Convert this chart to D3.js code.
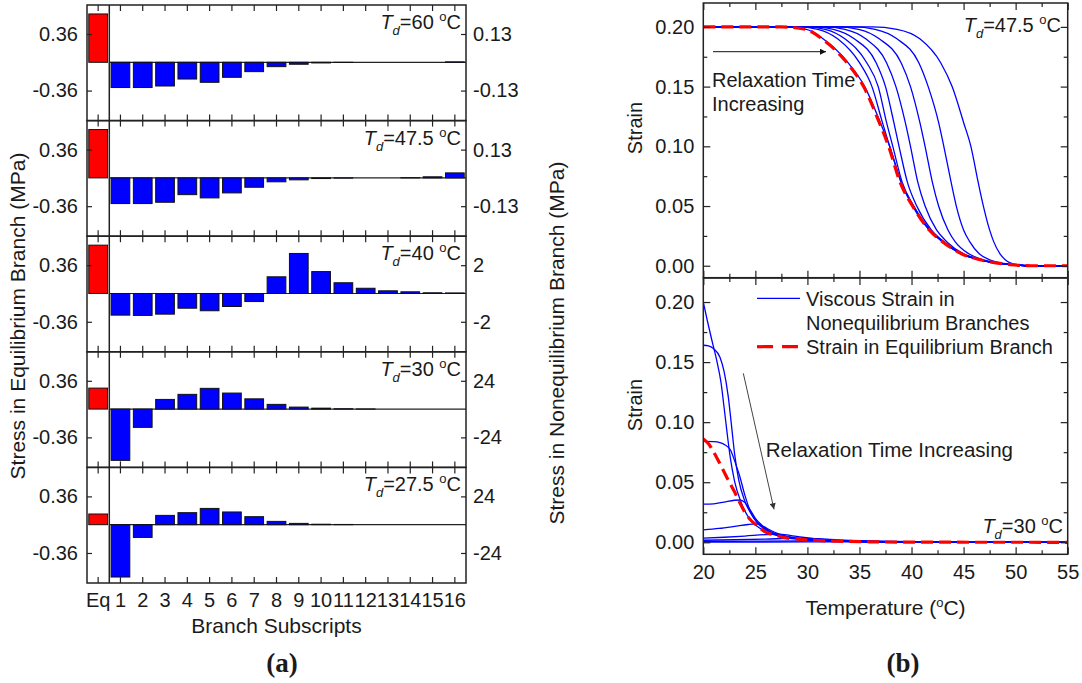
<!DOCTYPE html>
<html>
<head>
<meta charset="utf-8">
<script src="https://cdn.jsdelivr.net/npm/d3@7"></script>
<style>
  html, body { margin: 0; padding: 0; background: #fff; }
  svg { display: block; }
  text { font-family: "Liberation Sans", Arial, sans-serif; fill: #1a1a1a; }
</style>
</head>
<body>
<svg id="fig" width="1082" height="683"></svg>
<script>
// ---------- (a) stress in each branch, one panel per dwell temperature ----------
const branches = ["Eq","1","2","3","4","5","6","7","8","9","10","11","12","13","14","15","16"];
const dwellTemps = ["60", "47.5", "40", "30", "27.5"];
const eqStress = [0.615, 0.615, 0.615, 0.267, 0.136];           // MPa, left axis
const neqStress60  = [-0.116,-0.116,-0.109,-0.077,-0.092,-0.069,-0.043,-0.020,-0.009,-0.003,-0.001,0,0,0,0,0.002];
const neqStress475 = [-0.118,-0.118,-0.112,-0.077,-0.092,-0.069,-0.043,-0.018,-0.009,-0.003,-0.001,0,0,0.001,0.005,0.023];
const neqStress40  = [-1.53,-1.55,-1.46,-1.04,-1.22,-0.92,-0.57,1.18,2.83,1.55,0.76,0.37,0.19,0.12,0.05,0.04];
const neqStress30  = [-43.5,-15.5,8.2,12.5,17.6,13.6,8.7,4.0,1.7,0.8,0.3,0.1,0,0,0,0];
const neqStress275 = [-44.4,-10.8,7.9,10.2,13.8,10.8,6.8,2.8,1.1,0.4,0.2,0,0,0,0,0];
const eqTick = 0.36;
const neqTicks = [0.13, 0.13, 2, 24, 24];

// ---------- (b) strain histories ----------
const tempTicks = [20, 25, 30, 35, 40, 45, 50, 55];
const tempMinorTicks = [22.5, 27.5, 32.5, 37.5, 42.5, 47.5, 52.5];
const strainTicks = [0, 0.05, 0.10, 0.15, 0.20];
const strainMinorTicks = [0.025, 0.075, 0.125, 0.175];

// Td = 47.5 °C: temperature at which each curve reaches the listed strain
const strainLevels = [0.2, 0.198, 0.19, 0.17, 0.15, 0.12, 0.10, 0.07, 0.05, 0.03, 0.02, 0.01, 0.005, 0.001, 0];
const eqTemps475 = [27.5, 29.8, 31.4, 33.8, 35.4, 36.9, 37.8, 38.9, 40.1, 41.7, 43.0, 44.8, 46.6, 49.5, 51.5];
const viscousTemps475 = [
  [27.6, 29.9, 31.5, 33.9, 35.5, 37.0, 37.9, 39.0, 40.2, 41.8, 43.1, 44.9, 46.7, 49.6, 51.5],
  [29.0, 31.0, 32.9, 35.0, 36.2, 37.2, 37.9, 39.0, 40.1, 41.7, 43.0, 44.8, 46.6, 49.5, 51.5],
  [29.8, 31.7, 33.6, 35.7, 36.8, 37.6, 38.2, 39.1, 40.2, 41.7, 43.0, 44.8, 46.6, 49.5, 51.5],
  [30.6, 32.5, 34.5, 36.6, 37.5, 38.3, 38.8, 39.6, 40.5, 41.9, 43.1, 44.8, 46.6, 49.5, 51.5],
  [31.6, 33.6, 35.6, 37.6, 38.5, 39.4, 39.9, 40.6, 41.3, 42.4, 43.4, 45.0, 46.7, 49.5, 51.5],
  [32.8, 34.9, 36.9, 39.0, 39.9, 40.8, 41.3, 42.0, 42.6, 43.5, 44.2, 45.5, 46.9, 49.6, 51.5],
  [34.4, 36.5, 38.6, 40.7, 41.6, 42.6, 43.1, 43.8, 44.3, 45.0, 45.6, 46.5, 47.5, 49.7, 51.5],
  [36.2, 38.6, 40.8, 42.8, 43.9, 45.0, 45.7, 46.4, 46.9, 47.5, 47.9, 48.5, 49.0, 50.0, 51.0]
];

// Td = 30 °C: [temperature, strain]
const eqStrain30 = [[20,0.086],[20.5,0.082],[21,0.075],[21.5,0.067],[22,0.0585],[22.5,0.050],[23,0.042],[23.5,0.033],[24,0.025],[24.5,0.019],[25,0.015],[26,0.0085],[27,0.0058],[28,0.0036],[29.3,0.0025],[31,0.0015],[33,0.0009],[36,0.0004],[40,0.0001],[55,0]];
const viscousStrain30 = [
  [[20,0.2],[20.4,0.184],[20.8,0.169],[21.3,0.151],[21.7,0.133],[22.0,0.112],[22.3,0.090],[22.6,0.070],[23.0,0.051],[23.6,0.034],[24.4,0.020],[25.3,0.0125],[26.3,0.0078],[27.8,0.0042],[30,0.002],[33,0.0009],[37,0.0003],[42,0.0001],[55,0]],
  [[20,0.164],[20.5,0.1635],[21,0.161],[21.6,0.154],[22.0,0.142],[22.4,0.121],[22.7,0.098],[23.0,0.074],[23.4,0.052],[24.0,0.034],[24.8,0.021],[25.8,0.012],[26.8,0.0075],[28.3,0.004],[30.5,0.002],[33,0.001],[37,0.0003],[42,0.0001],[55,0]],
  [[20,0.084],[21,0.0838],[21.6,0.083],[22.1,0.081],[22.6,0.077],[23.0,0.068],[23.5,0.055],[24.0,0.039],[24.6,0.024],[25.2,0.016],[25.8,0.0115],[27,0.0062],[28.5,0.0036],[30.5,0.002],[33,0.001],[37,0.0003],[42,0.0001],[55,0]],
  [[20,0.0317],[21,0.032],[22,0.0335],[23,0.035],[23.5,0.0352],[24,0.033],[24.5,0.027],[25,0.020],[25.6,0.0145],[26.3,0.0095],[27.2,0.0062],[28.5,0.0037],[30.5,0.002],[33,0.001],[37,0.0003],[42,0.0001],[55,0]],
  [[20,0.0103],[21.5,0.0115],[23,0.0132],[24.3,0.0148],[25.1,0.0153],[25.8,0.013],[26.5,0.0098],[27.3,0.0068],[28.5,0.0042],[30.5,0.0022],[33,0.0011],[37,0.0004],[42,0.0001],[55,0]],
  [[20,0.0035],[22,0.0042],[24,0.0052],[26,0.0064],[27.2,0.0068],[28.3,0.0058],[29.5,0.0042],[31,0.0026],[33,0.0014],[37,0.0005],[42,0.0001],[55,0]],
  [[20,0.0017],[23,0.0021],[26,0.0027],[29,0.0033],[31,0.003],[33,0.002],[36,0.0009],[40,0.0003],[45,0.0001],[55,0]],
  [[20,0.0007],[25,0.0009],[30,0.0012],[34,0.0014],[37,0.001],[41,0.0004],[46,0.0001],[55,0]],
  [[20,0.0002],[30,0.0003],[38,0.0004],[44,0.0002],[55,0]]
];

const svg = d3.select("#fig");
const INK = "#222";
const BLUE = "#0000ff";
const RED = "#ff0000";

const defs = svg.append("defs");
defs.append("marker").attr("id", "headBlack")
  .attr("viewBox", "0 0 10 10").attr("refX", 10).attr("refY", 5)
  .attr("markerWidth", 10).attr("markerHeight", 6).attr("markerUnits", "userSpaceOnUse")
  .attr("orient", "auto")
  .append("path").attr("d", "M0,0L10,5L0,10Z").attr("fill", "#111");
defs.append("marker").attr("id", "headGrey")
  .attr("viewBox", "0 0 10 10").attr("refX", 10).attr("refY", 5)
  .attr("markerWidth", 9).attr("markerHeight", 6).attr("markerUnits", "userSpaceOnUse")
  .attr("orient", "auto")
  .append("path").attr("d", "M0,0L10,5L0,10Z").attr("fill", "#333");

function styleAxis(g, fontSize) {
  g.attr("font-size", fontSize).attr("font-family", "\"Liberation Sans\", Arial, sans-serif").attr("color", INK);
  g.select(".domain").remove();
  g.selectAll(".tick line").attr("stroke-width", 1.2);
  g.selectAll(".tick text").attr("fill", "#1a1a1a");
}

function tdLabel(parent, x, y, value) {
  const t = parent.append("text").attr("x", x).attr("y", y)
    .attr("text-anchor", "end").style("font-size", "20px");
  t.append("tspan").style("font-style", "italic").text("T");
  t.append("tspan").style("font-style", "italic").style("font-size", "13px").attr("dy", 6).text("d");
  t.append("tspan").attr("dy", -6).text("=" + value + " ");
  t.append("tspan").style("font-size", "13px").attr("dy", -8).text("o");
  t.append("tspan").attr("dy", 8).text("C");
}

// ================= panel (a) =================
const A = { left: 87, right: 466, top: 5, panelH: 115.6 };
const xB = d3.scaleBand().domain(branches).range([A.left, A.right])
  .paddingInner(0.16).paddingOuter(0.08);
const sepX = xB("1") - (xB.step() - xB.bandwidth()) / 2;
const neqSeries = [neqStress60, neqStress475, neqStress40, neqStress30, neqStress275];
const panelsA = dwellTemps.map((t, i) => ({ temp: t, eq: eqStress[i], neq: neqSeries[i], tick: neqTicks[i] }));
const gA = svg.append("g");

panelsA.forEach((p, i) => {
  const top = A.top + i * A.panelH, bot = top + A.panelH;
  const yL = d3.scaleLinear().domain([-0.742, 0.729]).range([bot, top]);
  const k = p.tick / eqTick;
  const yR = d3.scaleLinear().domain([-0.742 * k, 0.729 * k]).range([bot, top]);
  const g = gA.append("g");

  // equilibrium branch bar
  g.append("rect")
    .attr("x", xB("Eq")).attr("width", xB.bandwidth())
    .attr("y", yL(Math.max(p.eq, 0))).attr("height", Math.abs(yL(p.eq) - yL(0)))
    .attr("fill", RED).attr("stroke", "#111").attr("stroke-width", 1);

  // zero line across the nonequilibrium part
  g.append("line").attr("x1", sepX).attr("x2", A.right)
    .attr("y1", yR(0)).attr("y2", yR(0)).attr("stroke", INK).attr("stroke-width", 1.2);

  // nonequilibrium branch bars
  g.selectAll("rect.neq").data(p.neq).join("rect").attr("class", "neq")
    .attr("x", (d, j) => xB(branches[j + 1])).attr("width", xB.bandwidth())
    .attr("y", d => yR(Math.max(d, 0))).attr("height", d => Math.abs(yR(d) - yR(0)))
    .attr("fill", BLUE).attr("stroke", "#111").attr("stroke-width", 1);

  // axes
  const axL = g.append("g").attr("transform", `translate(${A.left},0)`)
    .call(d3.axisLeft(yL).tickValues([-eqTick, eqTick]).tickSize(-5).tickPadding(9).tickFormat(d => String(d)));
  styleAxis(axL, 20);
  const axR = g.append("g").attr("transform", `translate(${A.right},0)`)
    .call(d3.axisRight(yR).tickValues([-p.tick, p.tick]).tickSize(-5).tickPadding(7).tickFormat(d => String(d)));
  styleAxis(axR, 20);
  const axT = g.append("g").attr("transform", `translate(0,${top})`)
    .call(d3.axisTop(xB).tickSize(-6).tickFormat(() => ""));
  styleAxis(axT, 20);
  const axB = g.append("g").attr("transform", `translate(0,${bot})`)
    .call(d3.axisBottom(xB).tickSize(-6).tickPadding(10).tickFormat(i === panelsA.length - 1 ? (d => d) : (() => "")));
  styleAxis(axB, 20);

  // frame
  g.append("rect").attr("x", A.left).attr("y", top).attr("width", A.right - A.left).attr("height", A.panelH)
    .attr("fill", "none").attr("stroke", INK).attr("stroke-width", 1.5);

  tdLabel(g, A.right - 5, top + 24, p.temp);
});

// separator between equilibrium and nonequilibrium columns
gA.append("line").attr("x1", sepX).attr("x2", sepX)
  .attr("y1", A.top).attr("y2", A.top + 5 * A.panelH).attr("stroke", INK).attr("stroke-width", 1.5);

gA.append("text").attr("x", (A.left + A.right) / 2).attr("y", 633)
  .attr("text-anchor", "middle").style("font-size", "21px").text("Branch Subscripts");
gA.append("text").attr("transform", "translate(25,316) rotate(-90)")
  .attr("text-anchor", "middle").style("font-size", "21px").text("Stress in Equilibrium Branch (MPa)");
gA.append("text").attr("transform", "translate(564,343) rotate(-90)")
  .attr("text-anchor", "middle").style("font-size", "21px").text("Stress in Nonequilibrium Branch (MPa)");
gA.append("text").attr("x", 282).attr("y", 672).attr("text-anchor", "middle")
  .style("font-family", "\"Liberation Serif\", \"Times New Roman\", serif")
  .style("font-weight", "bold").style("font-size", "27px").text("(a)");

// ================= panel (b) =================
const B = { left: 703.3, right: 1067.7 };
const xT = d3.scaleLinear().domain([20, 55]).range([B.left, B.right]);
const frames = [
  { top: 3, bot: 277.7 },
  { top: 278, bot: 554.3 }
];
const gB = svg.append("g");

frames.forEach((f, i) => {
  f.y = d3.scaleLinear().domain([-0.01, 0.22]).range([f.bot, f.top]);
  const g = gB.append("g");
  const clipId = "clipB" + i;
  defs.append("clipPath").attr("id", clipId).append("rect")
    .attr("x", B.left).attr("y", f.top).attr("width", B.right - B.left).attr("height", f.bot - f.top);
  f.plot = g.append("g").attr("clip-path", `url(#${clipId})`);
  f.g = g;

  // y ticks (inward), labels on the left only
  const yl = g.append("g").attr("transform", `translate(${B.left},0)`)
    .call(d3.axisLeft(f.y).tickValues(strainTicks).tickSize(-7).tickPadding(9).tickFormat(d3.format(".2f")));
  styleAxis(yl, 20);
  const ylm = g.append("g").attr("transform", `translate(${B.left},0)`)
    .call(d3.axisLeft(f.y).tickValues(strainMinorTicks).tickSize(-4).tickFormat(() => ""));
  styleAxis(ylm, 20);
  const yr = g.append("g").attr("transform", `translate(${B.right},0)`)
    .call(d3.axisRight(f.y).tickValues(strainTicks).tickSize(-7).tickFormat(() => ""));
  styleAxis(yr, 20);
  const yrm = g.append("g").attr("transform", `translate(${B.right},0)`)
    .call(d3.axisRight(f.y).tickValues(strainMinorTicks).tickSize(-4).tickFormat(() => ""));
  styleAxis(yrm, 20);

  // x ticks (inward) on top and bottom edges
  const xt = g.append("g").attr("transform", `translate(0,${f.top})`)
    .call(d3.axisTop(xT).tickValues(tempTicks).tickSize(-7).tickFormat(() => ""));
  styleAxis(xt, 20);
  const xtm = g.append("g").attr("transform", `translate(0,${f.top})`)
    .call(d3.axisTop(xT).tickValues(tempMinorTicks).tickSize(-4).tickFormat(() => ""));
  styleAxis(xtm, 20);
  const xb = g.append("g").attr("transform", `translate(0,${f.bot})`)
    .call(d3.axisBottom(xT).tickValues(tempTicks).tickSize(-7).tickPadding(11)
      .tickFormat(i === 1 ? (d => String(d)) : (() => "")));
  styleAxis(xb, 20);
  const xbm = g.append("g").attr("transform", `translate(0,${f.bot})`)
    .call(d3.axisBottom(xT).tickValues(tempMinorTicks).tickSize(-4).tickFormat(() => ""));
  styleAxis(xbm, 20);

  g.append("rect").attr("x", B.left).attr("y", f.top).attr("width", B.right - B.left).attr("height", f.bot - f.top)
    .attr("fill", "none").attr("stroke", INK).attr("stroke-width", 1.5);

  g.append("text").attr("transform", `translate(635,${i === 0 ? 128 : 405}) rotate(-90)`)
    .attr("text-anchor", "middle").attr("dy", "0.35em").style("font-size", "20px").text("Strain");
});

// curves
const [fTop, fBot] = frames;
const lineTop = d3.line().x(d => xT(d[0])).y(d => fTop.y(d[1])).curve(d3.curveMonotoneX);
const lineBot = d3.line().x(d => xT(d[0])).y(d => fBot.y(d[1])).curve(d3.curveMonotoneX);
const fromLevels = temps => [[20, 0.2]].concat(strainLevels.map((s, j) => [temps[j], s]), [[55, 0]]);

fTop.plot.selectAll("path.visc").data(viscousTemps475.map(fromLevels)).join("path").attr("class", "visc")
  .attr("d", lineTop).attr("fill", "none").attr("stroke", BLUE).attr("stroke-width", 1.3);
fTop.plot.append("path").datum(fromLevels(eqTemps475)).attr("d", lineTop)
  .attr("fill", "none").attr("stroke", RED).attr("stroke-width", 3.2).attr("stroke-dasharray", "12,6");

fBot.plot.selectAll("path.visc").data(viscousStrain30).join("path").attr("class", "visc")
  .attr("d", lineBot).attr("fill", "none").attr("stroke", BLUE).attr("stroke-width", 1.3);
fBot.plot.append("path").datum(eqStrain30).attr("d", lineBot)
  .attr("fill", "none").attr("stroke", RED).attr("stroke-width", 3.2).attr("stroke-dasharray", "12,6");

// annotations, top panel
gB.append("line").attr("x1", 713).attr("y1", 51.7).attr("x2", 826).attr("y2", 51.7)
  .attr("stroke", "#111").attr("stroke-width", 1).attr("marker-end", "url(#headBlack)");
gB.append("text").attr("x", 712).attr("y", 87).style("font-size", "20px").text("Relaxation Time");
gB.append("text").attr("x", 712).attr("y", 111).style("font-size", "20px").text("Increasing");
tdLabel(gB, 1061, 32, "47.5");

// annotations, bottom panel
gB.append("line").attr("x1", 743.3).attr("y1", 373.3).attr("x2", 774).attr("y2", 509.3)
  .attr("stroke", "#444").attr("stroke-width", 1).attr("marker-end", "url(#headGrey)");
gB.append("text").attr("x", 765.7).attr("y", 457).style("font-size", "20.5px").text("Relaxation Time Increasing");
tdLabel(gB, 1063, 533, "30");

// legend
gB.append("line").attr("x1", 757).attr("x2", 800).attr("y1", 298.3).attr("y2", 298.3)
  .attr("stroke", BLUE).attr("stroke-width", 1.3);
gB.append("text").attr("x", 806).attr("y", 305.5).style("font-size", "20px").text("Viscous Strain in");
gB.append("text").attr("x", 806).attr("y", 329.5).style("font-size", "20px").text("Nonequilibrium Branches");
gB.append("line").attr("x1", 757).attr("x2", 800).attr("y1", 346.7).attr("y2", 346.7)
  .attr("stroke", RED).attr("stroke-width", 3.2).attr("stroke-dasharray", "16,9");
gB.append("text").attr("x", 806).attr("y", 353.5).style("font-size", "20px").text("Strain in Equilibrium Branch");

// x axis title and panel tag
const tempTitle = gB.append("text").attr("x", (B.left + B.right) / 2).attr("y", 615)
  .attr("text-anchor", "middle").style("font-size", "21px");
tempTitle.append("tspan").text("Temperature (");
tempTitle.append("tspan").style("font-size", "13px").attr("dy", -8).text("o");
tempTitle.append("tspan").attr("dy", 8).text("C)");
gB.append("text").attr("x", 903).attr("y", 672).attr("text-anchor", "middle")
  .style("font-family", "\"Liberation Serif\", \"Times New Roman\", serif")
  .style("font-weight", "bold").style("font-size", "27px").text("(b)");
</script>
</body>
</html>
